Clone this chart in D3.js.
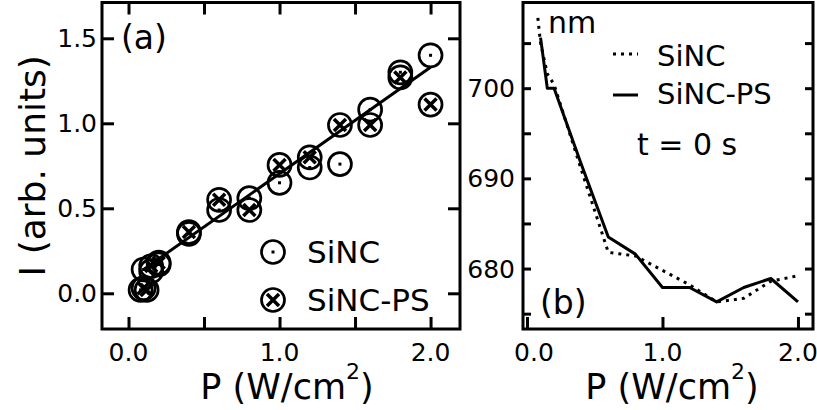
<!DOCTYPE html>
<html>
<head>
<meta charset="utf-8">
<script src="https://d3js.org/d3.v7.min.js"></script>
<style>
  body { margin: 0; background: #fff; }
  svg { display: block; }
  text { font-family: "DejaVu Sans", sans-serif; fill: #000; }
</style>
</head>
<body>
<div id="chart"></div>
<script>
// panel (a): intensity vs power
const sincP = [0.08, 0.1, 0.15, 0.2, 0.4, 0.6, 0.8, 1.0, 1.2, 1.4, 1.6, 1.8, 2.0];
const sincI = [0.02, 0.14, 0.13, 0.17, 0.35, 0.49, 0.56, 0.65, 0.74, 0.76, 1.08, 1.30, 1.40];
const psP = [0.1, 0.12, 0.15, 0.2, 0.4, 0.6, 0.8, 1.0, 1.2, 1.4, 1.6, 1.8, 2.0];
const psI = [0.03, 0.02, 0.16, 0.18, 0.36, 0.55, 0.49, 0.755, 0.80, 0.99, 0.99, 1.27, 1.11];
const fitP = [0.1, 2.0];
const fitI = [0.14, 1.33];

// panel (b): peak wavelength vs power
const lamSincP = [0.08, 0.1, 0.15, 0.2, 0.4, 0.6, 0.8, 1.0, 1.2, 1.4, 1.6, 1.8, 2.0];
const lamSinc = [707.8, 705.0, 701.6, 700.4, 691.0, 681.8, 681.4, 679.8, 678.2, 676.3, 676.7, 678.6, 679.2];
const lamPsP = [0.1, 0.15, 0.2, 0.4, 0.6, 0.8, 1.0, 1.2, 1.4, 1.6, 1.8, 2.0];
const lamPs = [705.6, 700.0, 700.0, 691.6, 683.5, 681.6, 677.9, 677.9, 676.3, 677.9, 678.9, 676.3];

const xTicksA = [0, 0.5, 1.0, 1.5, 2.0];
const xLabelsA = ["0.0", "1.0", "2.0"];
const yTicksA = [0, 0.5, 1.0, 1.5];
const yLabelsA = ["0.0", "0.5", "1.0", "1.5"];
const xTicksB = [0, 1.0, 2.0];
const xLabelsB = ["0.0", "1.0", "2.0"];
const yTicksB = [675, 680, 685, 690, 695, 700, 705];
const yLabelsB = [680, 690, 700];

function zip(xs, ys) { return xs.map(function(x, i) { return {p: x, v: ys[i]}; }); }

function TwoPanelPlot() {
    let self = this;
    let W = 817, H = 410;

    self.svg = d3.select("#chart").append("svg")
        .attr("width", W).attr("height", H);

    // axis title with superscript
    function powerTitle(cx) {
        let t = self.svg.append("text")
            .attr("x", cx).attr("y", 399)
            .attr("text-anchor", "middle")
            .style("font-size", "35px");
        t.append("tspan").text("P (W/cm");
        t.append("tspan").attr("dy", -20).style("font-size", "22px").text("2");
        t.append("tspan").attr("dy", 20).text(")");
    }

    function frame(g, x0, x1, y0, y1) {
        g.append("rect")
            .attr("x", x0).attr("y", y0)
            .attr("width", x1 - x0).attr("height", y1 - y0)
            .attr("fill", "none").attr("stroke", "#000").attr("stroke-width", 3);
    }

    function panelA() {
        let L = 102, R = 460, T = 2.5, B = 329;
        self.xa = d3.scaleLinear().domain([-0.1755, 2.195]).range([L, R]);
        self.ya = d3.scaleLinear().domain([-0.21, 1.7106]).range([B, T]);
        let g = self.svg.append("g");
        let tick = 12;

        // ticks on all four sides, pointing inward
        let bottom = g.append("g").attr("transform", "translate(0," + B + ")")
            .call(d3.axisTop(self.xa).tickValues(xTicksA).tickSize(tick).tickFormat(""));
        let top = g.append("g").attr("transform", "translate(0," + T + ")")
            .call(d3.axisBottom(self.xa).tickValues(xTicksA).tickSize(tick).tickFormat(""));
        let left = g.append("g").attr("transform", "translate(" + L + ",0)")
            .call(d3.axisRight(self.ya).tickValues(yTicksA).tickSize(tick).tickFormat(""));
        let right = g.append("g").attr("transform", "translate(" + R + ",0)")
            .call(d3.axisLeft(self.ya).tickValues(yTicksA).tickSize(tick).tickFormat(""));
        [bottom, top, left, right].forEach(function(a) {
            a.select(".domain").remove();
            a.selectAll("line").attr("stroke", "#000").attr("stroke-width", 3);
        });
        frame(g, L, R, T, B);

        // tick labels
        g.selectAll(".xl").data(xLabelsA).enter().append("text")
            .attr("x", function(d) { return self.xa(+d); })
            .attr("y", 360.5).attr("text-anchor", "middle")
            .style("font-size", "25px").text(function(d) { return d; });
        g.selectAll(".yl").data(yLabelsA).enter().append("text")
            .attr("x", 97).attr("y", function(d) { return self.ya(+d); })
            .attr("dy", "0.36em").attr("text-anchor", "end")
            .style("font-size", "25px").text(function(d) { return d; });

        // fit line
        let line = d3.line().x(function(d) { return self.xa(d.p); }).y(function(d) { return self.ya(d.v); });
        g.append("path").attr("d", line(zip(fitP, fitI)))
            .attr("fill", "none").attr("stroke", "#000").attr("stroke-width", 3);

        // markers
        let sinc = g.selectAll(".sinc").data(zip(sincP, sincI)).enter().append("g")
            .attr("transform", function(d) { return "translate(" + self.xa(d.p) + "," + self.ya(d.v) + ")"; });
        dotMarker(sinc);
        let ps = g.selectAll(".ps").data(zip(psP, psI)).enter().append("g")
            .attr("transform", function(d) { return "translate(" + self.xa(d.p) + "," + self.ya(d.v) + ")"; });
        crossMarker(ps);

        // legend
        dotMarker(g.append("g").attr("transform", "translate(273,252)"));
        crossMarker(g.append("g").attr("transform", "translate(273,300)"));
        g.append("text").attr("x", 307).attr("y", 263).style("font-size", "31px").text("SiNC");
        g.append("text").attr("x", 307).attr("y", 311).style("font-size", "31px").text("SiNC-PS");

        g.append("text").attr("x", 121).attr("y", 49).style("font-size", "33px").text("(a)");

        g.append("text")
            .attr("transform", "translate(45," + ((T + B) / 2) + ") rotate(-90)")
            .attr("text-anchor", "middle")
            .style("font-size", "36px")
            .text("I (arb. units)");
        powerTitle((L + R) / 2 + 6);
    }

    function dotMarker(sel) {
        sel.append("circle").attr("r", 11.5).attr("fill", "none")
            .attr("stroke", "#000").attr("stroke-width", 2.7);
        sel.append("rect").attr("x", -1.5).attr("y", -1.5).attr("width", 3).attr("height", 3).attr("fill", "#000");
    }

    function crossMarker(sel) {
        sel.append("circle").attr("r", 11.5).attr("fill", "none")
            .attr("stroke", "#000").attr("stroke-width", 2.7);
        sel.append("path").attr("d", "M-6,-6L6,6M-6,6L6,-6")
            .attr("stroke", "#000").attr("stroke-width", 3.5);
    }

    function panelB() {
        let L = 523, R = 813, T = 2.5, B = 329;
        self.xb = d3.scaleLinear().domain([-0.0295, 2.111]).range([L, R]);
        self.yb = d3.scaleLinear().domain([673.3, 709.5]).range([B, T]);
        let g = self.svg.append("g");

        let bottom = g.append("g").attr("transform", "translate(0," + B + ")")
            .call(d3.axisTop(self.xb).tickValues(xTicksB).tickSize(12).tickFormat(""));
        let left = g.append("g").attr("transform", "translate(" + L + ",0)")
            .call(d3.axisRight(self.yb).tickValues(yTicksB).tickSize(8).tickFormat(""));
        let right = g.append("g").attr("transform", "translate(" + R + ",0)")
            .call(d3.axisLeft(self.yb).tickValues(yTicksB).tickSize(8).tickFormat(""));
        [bottom, left, right].forEach(function(a) {
            a.select(".domain").remove();
            a.selectAll("line").attr("stroke", "#000").attr("stroke-width", 3);
        });
        frame(g, L, R, T, B);

        g.selectAll(".xl").data(xLabelsB).enter().append("text")
            .attr("x", function(d, i) { return self.xb(+d) + (i == 0 ? 7 : 0); })
            .attr("y", 360.5).attr("text-anchor", "middle")
            .style("font-size", "25px").text(function(d) { return d; });
        g.selectAll(".yl").data(yLabelsB).enter().append("text")
            .attr("x", 515).attr("y", function(d) { return self.yb(d); })
            .attr("dy", "0.36em").attr("text-anchor", "end")
            .style("font-size", "25px").text(function(d) { return d; });

        let line = d3.line().x(function(d) { return self.xb(d.p); }).y(function(d) { return self.yb(d.v); });
        g.append("path").attr("d", line(zip(lamSincP, lamSinc)))
            .attr("fill", "none").attr("stroke", "#000").attr("stroke-width", 3)
            .attr("stroke-dasharray", "3,5");
        g.append("path").attr("d", line(zip(lamPsP, lamPs)))
            .attr("fill", "none").attr("stroke", "#000").attr("stroke-width", 3)
            .attr("stroke-linejoin", "round");

        g.append("text").attr("x", 548).attr("y", 33).style("font-size", "30px").text("nm");

        // legend
        g.append("line").attr("x1", 613).attr("x2", 638).attr("y1", 54).attr("y2", 54)
            .attr("stroke", "#000").attr("stroke-width", 3).attr("stroke-dasharray", "3,5");
        g.append("line").attr("x1", 613).attr("x2", 638).attr("y1", 95).attr("y2", 95)
            .attr("stroke", "#000").attr("stroke-width", 3);
        g.append("text").attr("x", 657).attr("y", 66).style("font-size", "29px").text("SiNC");
        g.append("text").attr("x", 657).attr("y", 104).style("font-size", "29px").text("SiNC-PS");
        g.append("text").attr("x", 637).attr("y", 155).style("font-size", "30px").text("t = 0 s");

        g.append("text").attr("x", 540).attr("y", 314).style("font-size", "33px").text("(b)");
        powerTitle((L + R) / 2 + 4);
    }

    return { panelA, panelB };
}

let plot = TwoPanelPlot();
plot.panelA();
plot.panelB();
</script>
</body>
</html>
